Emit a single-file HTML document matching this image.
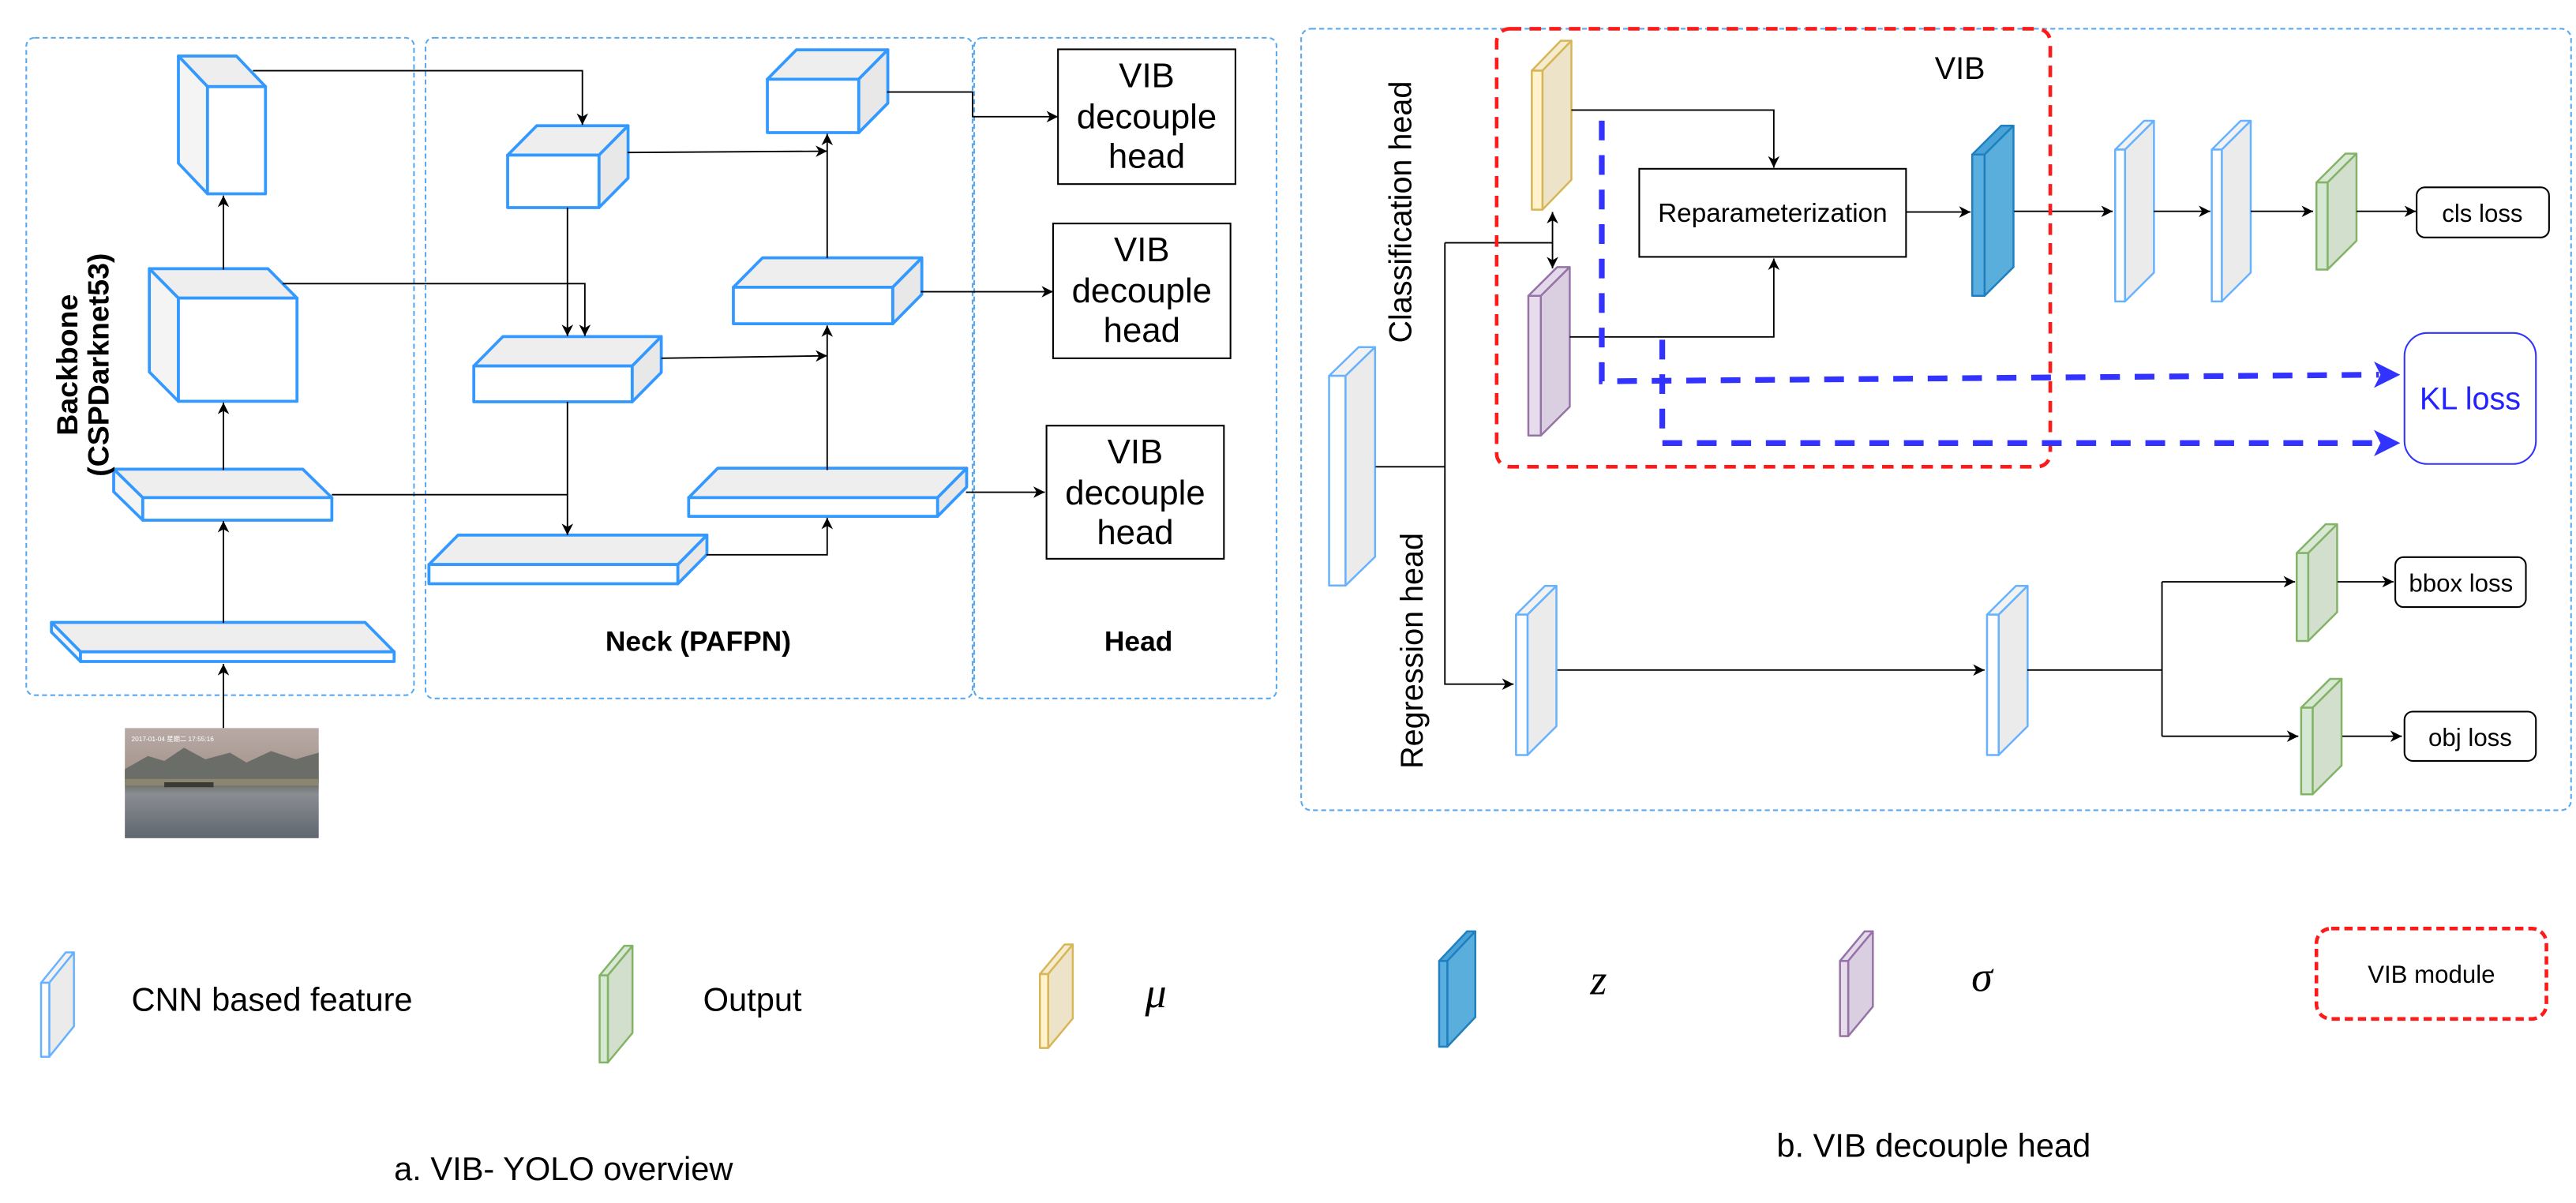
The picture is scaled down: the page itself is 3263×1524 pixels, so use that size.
<!DOCTYPE html>
<html><head><meta charset="utf-8"><style>
html,body{margin:0;padding:0;background:#fff;}
svg{display:block;}
text{font-family:"Liberation Sans",sans-serif;fill:#000;}
</style></head><body>
<svg id="s" width="3263" height="1524" viewBox="0 0 1568 732" preserveAspectRatio="none" xmlns="http://www.w3.org/2000/svg">
<defs>
<marker id="a" markerWidth="8" markerHeight="8" refX="7" refY="4" orient="auto" markerUnits="userSpaceOnUse"><path d="M0,0.5 L7,4 L0,7.5 L2,4 Z" fill="#000"/></marker>
<linearGradient id="sky" x1="0" y1="0" x2="0" y2="1"><stop offset="0" stop-color="#b8aaa6"/><stop offset="0.35" stop-color="#a89890"/><stop offset="0.5" stop-color="#6b6e66"/><stop offset="0.6" stop-color="#8a8d92"/><stop offset="1" stop-color="#5f6670"/></linearGradient>
</defs>
<g fill="none" stroke="#5aa9f0" stroke-width="1" stroke-dasharray="3,2">
<rect x="16" y="23" width="236" height="400" rx="5"/>
<rect x="259" y="23" width="333" height="402" rx="5"/>
<rect x="593" y="23" width="184" height="402" rx="5"/>
<rect x="792" y="17.5" width="773" height="475.5" rx="6"/>
</g>
<g id="shapes"></g>
<g stroke="#000" stroke-width="0.9" fill="none">
<path d="M136,443 V404" marker-end="url(#a)"/>
<path d="M136,379 V317" marker-end="url(#a)"/>
<path d="M136,286 V245" marker-end="url(#a)"/>
<path d="M136,164 V119" marker-end="url(#a)"/>
<path d="M154,43 H354.5 V76" marker-end="url(#a)"/>
<path d="M172,172.6 H356 V204.5" marker-end="url(#a)"/>
<path d="M345.4,126.3 V204.5" marker-end="url(#a)"/>
<path d="M202,301 H345.4 V325.6" marker-end="url(#a)"/>
<path d="M345.4,244.5 V301"/>
<path d="M430,337.6 H503.5 V315" marker-end="url(#a)"/>
<path d="M503.5,286 V198" marker-end="url(#a)"/>
<path d="M503.5,157 V81.4" marker-end="url(#a)"/>
<path d="M402.5,218 L503.5,216.5" marker-end="url(#a)"/>
<path d="M382,92.8 L503.5,92" marker-end="url(#a)"/>
<path d="M540,56 H592 V71 H644" marker-end="url(#a)"/>
<path d="M560.5,177.5 H641" marker-end="url(#a)"/>
<path d="M588,299.5 H636" marker-end="url(#a)"/>
<path d="M837.3,284 H879.5"/>
<path d="M879.5,147.7 V416.3 H921.3" marker-end="url(#a)"/>
<path d="M879.5,147.7 H945"/>
<path d="M945,147.7 V129" marker-end="url(#a)"/>
<path d="M945,147.7 V163.3" marker-end="url(#a)"/>
<path d="M956.5,67 H1079.7 V102" marker-end="url(#a)"/>
<path d="M955.5,205 H1079.7 V157.3" marker-end="url(#a)"/>
<path d="M1160,129 H1199.5" marker-end="url(#a)"/>
<path d="M1226,128.6 H1286" marker-end="url(#a)"/>
<path d="M1311,128.6 H1345.4" marker-end="url(#a)"/>
<path d="M1370,128.6 H1408" marker-end="url(#a)"/>
<path d="M1434.4,128.6 H1470.6" marker-end="url(#a)"/>
<path d="M948,407.7 H1208" marker-end="url(#a)"/>
<path d="M1234,407.7 H1316"/>
<path d="M1316,354 V448"/>
<path d="M1316,354 H1397" marker-end="url(#a)"/>
<path d="M1316,448 H1399" marker-end="url(#a)"/>
<path d="M1422.8,354 H1457" marker-end="url(#a)"/>
<path d="M1425.8,448 H1462" marker-end="url(#a)"/>
</g>
<g fill="#fff" stroke="#000" stroke-width="1">
<rect x="644" y="30" width="108" height="82"/>
<rect x="641" y="136" width="108" height="82"/>
<rect x="637" y="259" width="108" height="81"/>
<rect x="997.8" y="102.7" width="162.4" height="53.6"/>
<rect x="1471" y="114" width="80.6" height="30.5" rx="5"/>
<rect x="1458" y="339" width="79.5" height="30.4" rx="5"/>
<rect x="1463.6" y="433" width="80" height="30" rx="5"/>
</g>
<rect x="1463.6" y="202.6" width="80" height="79.7" rx="14" fill="#fff" stroke="#3333ff" stroke-width="1"/>
<rect x="911" y="17.5" width="337" height="266.5" rx="8" fill="none" stroke="#ff1a1a" stroke-width="2.2" stroke-dasharray="7,5"/>
<rect x="1410" y="565" width="140" height="55" rx="9" fill="none" stroke="#ff1a1a" stroke-width="2.2" stroke-dasharray="5,3"/>
<g fill="none" stroke="#3333ff" stroke-width="3.5" stroke-dasharray="12,9">
<path d="M975,73.4 V232 L1448,228"/>
<path d="M1011.8,206.7 V269.6 H1448"/>
</g>
<polygon points="1445,220 1461,228 1445,236 1449,228" fill="#3333ff"/>
<polygon points="1445,261.6 1461,269.6 1445,277.6 1449,269.6" fill="#3333ff"/>
<g>
<rect x="76" y="443" width="118" height="67" fill="url(#sky)"/>
<path d="M76,468 L90,460 L100,463 L112,455 L125,462 L140,458 L150,464 L165,457 L180,462 L194,458 L194,476 L76,476 Z" fill="#6a6d68"/>
<rect x="76" y="474" width="118" height="4" fill="#8a8670"/>
<rect x="100" y="476" width="30" height="3" fill="#3a3a36"/>
<text x="80" y="451" font-size="4" style="fill:#fff">2017-01-04 星期二 17:55:16</text>
</g>
<g font-size="21" text-anchor="middle">
<text x="698" y="53">VIB</text><text x="698" y="78">decouple</text><text x="698" y="102">head</text>
<text x="695" y="159">VIB</text><text x="695" y="184">decouple</text><text x="695" y="208">head</text>
<text x="691" y="282">VIB</text><text x="691" y="307">decouple</text><text x="691" y="331">head</text>
</g>
<text x="0" y="0" font-size="18" font-weight="bold" text-anchor="middle" transform="translate(47,222) rotate(-90)">Backbone</text>
<text x="0" y="0" font-size="18" font-weight="bold" text-anchor="middle" transform="translate(66,222) rotate(-90)">(CSPDarknet53)</text>
<text x="425" y="396" font-size="17" font-weight="bold" text-anchor="middle">Neck (PAFPN)</text>
<text x="693" y="396" font-size="17" font-weight="bold" text-anchor="middle">Head</text>
<text x="1193" y="48" font-size="19" text-anchor="middle">VIB</text>
<text x="1079" y="135" font-size="16" text-anchor="middle">Reparameterization</text>
<text x="1511" y="135" font-size="15" text-anchor="middle">cls loss</text>
<text x="1498" y="360" font-size="15" text-anchor="middle">bbox loss</text>
<text x="1503.6" y="454" font-size="15" text-anchor="middle">obj loss</text>
<text x="1503.6" y="249" font-size="19" text-anchor="middle" style="fill:#2222ff">KL loss</text>
<text x="0" y="0" font-size="19" text-anchor="middle" transform="translate(859,129) rotate(-90)">Classification head</text>
<text x="0" y="0" font-size="19" text-anchor="middle" transform="translate(866,396) rotate(-90)">Regression head</text>
<text x="80" y="615" font-size="20">CNN based feature</text>
<text x="428" y="615" font-size="20">Output</text>
<text x="697" y="613" font-size="26" font-style="italic" style="font-family:'Liberation Serif',serif">μ</text>
<text x="968" y="605" font-size="26" font-style="italic" style="font-family:'Liberation Serif',serif">z</text>
<text x="1200" y="603" font-size="26" font-style="italic" style="font-family:'Liberation Serif',serif">σ</text>
<text x="1480" y="598" font-size="15" text-anchor="middle">VIB module</text>
<text x="343" y="718" font-size="20" text-anchor="middle">a. VIB- YOLO overview</text>
<text x="1177" y="704" font-size="20" text-anchor="middle">b. VIB decouple head</text>
</svg>
<script>
var g=document.getElementById('shapes'),NS='http://www.w3.org/2000/svg';
function poly(pts,fill,stroke,w){var p=document.createElementNS(NS,'polygon');p.setAttribute('points',pts.map(function(q){return q.join(',')}).join(' '));p.setAttribute('fill',fill);p.setAttribute('stroke',stroke);p.setAttribute('stroke-width',w);p.setAttribute('stroke-linejoin','round');g.appendChild(p);}
function cube(x1,y1,x2,y2,dx,dy,c){
 c=c||{s:'#3399ff',t:'#eeeeee',sd:'#e8e8e8',f:'#ffffff',w:1.8};
 poly([[x1,y1],[x2,y1],[x2+dx,y1+dy],[x1+dx,y1+dy]],c.t,c.s,c.w);
 if(dx>0)poly([[x2,y1],[x2+dx,y1+dy],[x2+dx,y2+dy],[x2,y2]],c.sd,c.s,c.w);
 else poly([[x1,y1],[x1+dx,y1+dy],[x1+dx,y2+dy],[x1,y2]],'#f4f4f4',c.s,c.w);
 poly([[x1,y1],[x2,y1],[x2,y2],[x1,y2]],c.f,c.s,c.w);
}
cube(126.3,52.7,161.6,117.9,-17.7,-18.6);
cube(108.6,181.4,180.8,244.2,-17.7,-17.9);
cube(86.9,302.8,202,316.5,-17.7,-17.3);
cube(49,396.6,239.9,402.5,-17.7,-17.9);
cube(309,94.4,364.6,126.3,17.7,-17.9);
cube(288.4,222.7,384.8,244.5,17.7,-17.9);
cube(261.1,343.5,412.6,355.2,17.7,-17.9);
cube(419.2,302.8,570.7,314.2,17.7,-17.9);
cube(446.4,174.8,543.4,197,17.7,-17.9);
cube(467.1,48.2,522.7,80.7,17.7,-17.9);
var CNN={s:'#66b2ff',t:'#f2f2f2',sd:'#ebebeb',f:'#ffffff',w:1.2};
var Y={s:'#d6b656',t:'#f5ecd0',sd:'#ede3c9',f:'#fff2cc',w:1.2};
var P={s:'#9673a6',t:'#e4d9ea',sd:'#dacfe0',f:'#e6dcec',w:1.2};
var G={s:'#82b366',t:'#d8e8d4',sd:'#d1dfcc',f:'#d5e8d4',w:1.2};
var B={s:'#1f7fbf',t:'#4aa3d8',sd:'#5aaedc',f:'#5aaee0',w:1.2};
cube(932.4,43,938.9,127.6,17.6,-18.2,Y);
cube(930.3,180,937.9,265,17.6,-17.5,P);
cube(1200.5,94,1208,180,17.6,-17.5,B);
cube(1287.5,91,1293.5,183.4,17.6,-17.5,CNN);
cube(1346.3,91,1352.4,183.4,17.6,-17.5,CNN);
cube(1410,111,1416.8,164,17.6,-17.5,G);
cube(809,228.7,819,356.3,18,-17.5,CNN);
cube(922.8,374,929.8,459.4,17.6,-17.5,CNN);
cube(1209.5,374,1216.6,459.4,17.6,-17.5,CNN);
cube(1398,336.5,1405,390,17.6,-17.5,G);
cube(1400.7,430.6,1407.7,483.3,17.6,-17.5,G);
cube(25,598,30,643,15,-18.5,CNN);
cube(365,593.5,370,646.5,15,-18,G);
cube(633,592.7,638,637.7,15,-18,Y);
cube(876,584.7,881,636.9,17,-18,B);
cube(1120,584.7,1125,630.5,15,-18,P);
</script>
</body></html>
